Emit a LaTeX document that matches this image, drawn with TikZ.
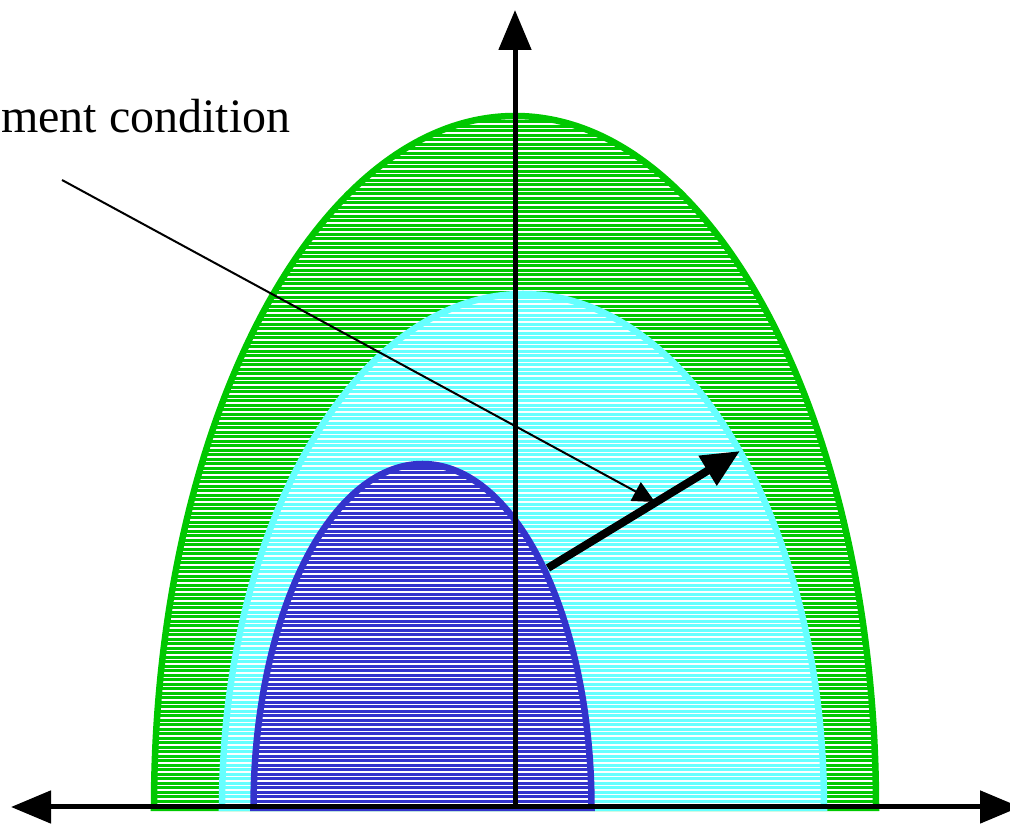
\documentclass[tikz,border=0pt]{standalone}
\usepackage{fontspec}
\setmainfont{Liberation Serif}
\usetikzlibrary{arrows.meta}

\definecolor{domegreen}{RGB}{0,200,0}
\definecolor{domecyan}{RGB}{102,255,255}
\definecolor{domeblue}{RGB}{51,51,204}

\begin{document}
\begin{tikzpicture}[x=1pt,y=1pt,
  hatch/.style={white,line width=1.1pt},
  rim/.style={line width=6.5pt},
  axis/.style={line width=5pt},
  bigtip/.tip={Triangle[length=40pt,width=32pt]},
  rx/.style={-{Triangle[length=38pt,width=33pt]},line width=8pt},
  thin/.style={-{Triangle[length=22pt,width=21pt]},line width=2pt},
  lab/.style={font=\fontsize{48}{58}\selectfont,inner sep=0pt,anchor=base west}]
  \useasboundingbox (0,0) rectangle (1010,827);
  % nested domes, each filled and hatched
  \foreach \cx/\rr/\hh/\col in {515/361/692/domegreen,523/301/514/domecyan,422.5/169/344/domeblue}{
    \fill[\col] (\cx-\rr,19) arc[start angle=180,end angle=0,x radius=\rr,y radius=\hh] -- cycle;
    \begin{scope}
      \clip (\cx-\rr,19) arc[start angle=180,end angle=0,x radius=\rr,y radius=\hh] -- cycle;
      \foreach \hy in {19,23.5,...,720} \draw[hatch] (\cx-\rr,\hy) -- (\cx+\rr,\hy);
    \end{scope}
    \draw[rim,\col] (\cx-\rr,19) arc[start angle=180,end angle=0,x radius=\rr,y radius=\hh] -- cycle;
  }
  % axes
  \coordinate (O) at (515,20);
  \coordinate (xl) at (11,20);
  \coordinate (xr) at (1020,20);
  \coordinate (yt) at (515,817);
  \draw[axis,{bigtip}-{bigtip}] (xl) -- (xr);
  \draw[axis,-{bigtip}] (O) -- (yt);
  % label and arrows
  \node[lab] (cond) at (1,694) {ment condition};
  \coordinate (c0) at (62,647);
  \coordinate (c1) at (655,325);
  \draw[thin] (c0) -- (c1);
  \coordinate (v0) at (548,259);
  \coordinate (v1) at (740,376);
  \draw[rx] (v0) -- (v1);
\end{tikzpicture}
\end{document}
